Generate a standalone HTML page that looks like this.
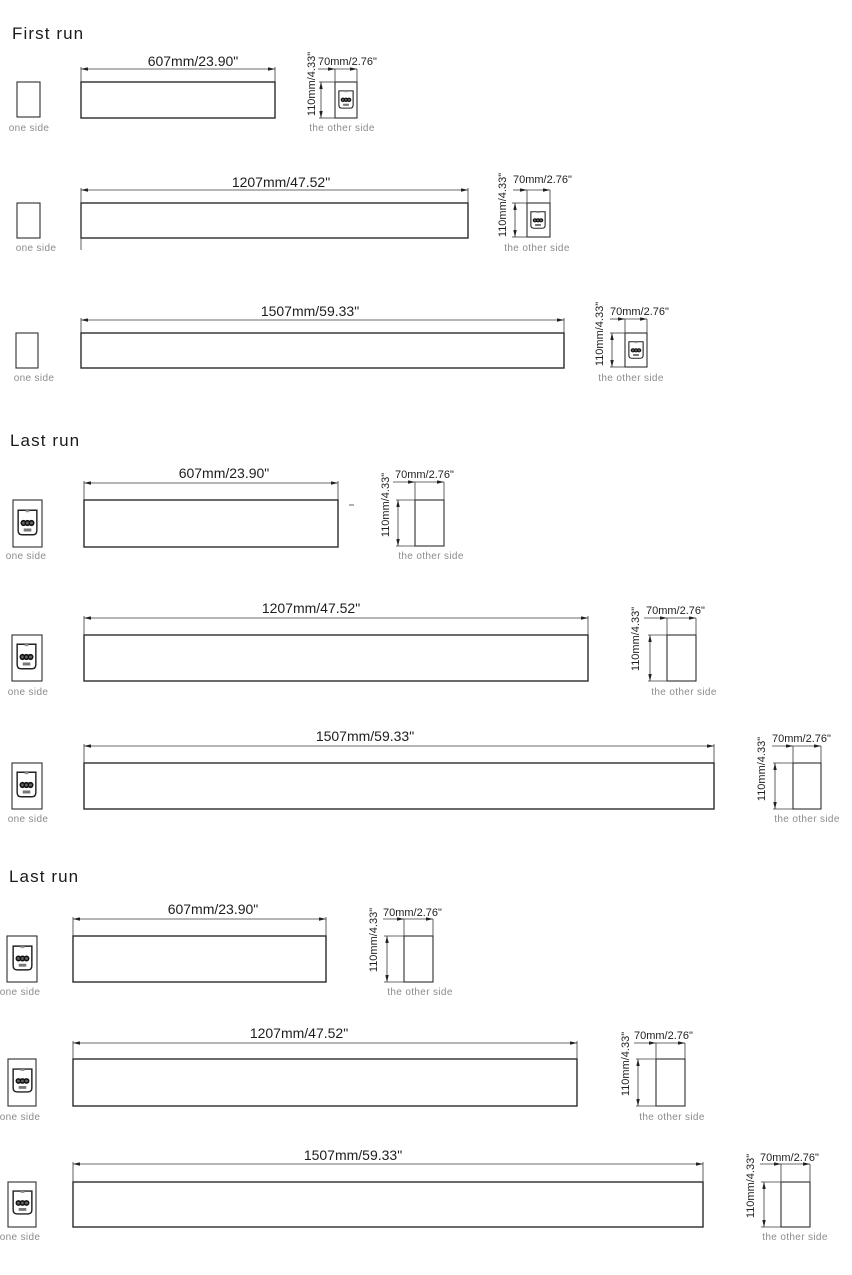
<!DOCTYPE html>
<html>
<head>
<meta charset="utf-8">
<style>
  html,body{margin:0;padding:0;background:#fff;}
  svg{display:block;}
  text{font-family:"Liberation Sans",Arial,sans-serif;}
  .t{font-size:17px;fill:#1a1a1a;letter-spacing:1.1px;}
  .lbl{font-size:14px;fill:#1e1e1e;}
  .sm{font-size:11px;fill:#1e1e1e;}
  .cap{font-size:10px;fill:#8c8c8c;letter-spacing:0.35px;}
  .bar{fill:none;stroke:#2a2a2a;stroke-width:1.4;}
  .box{fill:#fff;stroke:#2e2e2e;stroke-width:1.1;}
  .d{stroke:#3a3a3a;stroke-width:0.8;fill:none;}
</style>
</head>
<body>
<svg width="852" height="1275" viewBox="0 0 852 1275" xmlns="http://www.w3.org/2000/svg">
<defs>
  <marker id="a" viewBox="0 0 8 4" refX="8" refY="2" markerWidth="7" markerHeight="3.5" markerUnits="userSpaceOnUse" orient="auto-start-reverse">
    <path d="M0,0 L8,2 L0,4 z" fill="#222"/>
  </marker>
  <symbol id="conn" viewBox="0 0 22 27" preserveAspectRatio="none">
    <path d="M1.2,1.2 H20.8 V21.5 Q20.8,25.8 16.5,25.8 H5.5 Q1.2,25.8 1.2,21.5 Z" fill="#fff" stroke="#222" stroke-width="1.5"/>
    <rect x="9" y="1.2" width="4" height="2" fill="#999"/>
    <circle cx="6.8" cy="14" r="2.3" fill="#666" stroke="#111" stroke-width="1.6"/>
    <circle cx="11" cy="14" r="2.3" fill="#666" stroke="#111" stroke-width="1.6"/>
    <circle cx="15.2" cy="14" r="2.3" fill="#666" stroke="#111" stroke-width="1.6"/>
    <rect x="7" y="19.5" width="8" height="3" fill="#777"/>
  </symbol>
</defs>

<!-- ===== First run ===== -->
<text class="t" x="12" y="39">First run</text>

<!-- Row 1 : 607 -->
<rect class="box" x="17" y="82" width="23" height="35"/>
<text class="cap" x="29" y="131" text-anchor="middle">one side</text>
<rect class="bar" x="81" y="82" width="194" height="36"/>
<line class="d" x1="81" y1="67" x2="81" y2="82"/>
<line class="d" x1="275" y1="67" x2="275" y2="82"/>
<line class="d" x1="81" y1="69" x2="275" y2="69" marker-start="url(#a)" marker-end="url(#a)"/>
<text class="lbl" x="193" y="66" text-anchor="middle">607mm/23.90"</text>
<rect class="box" x="335" y="82" width="22" height="36"/>
<use href="#conn" x="338" y="90" width="16" height="19"/>
<line class="d" x1="335" y1="69" x2="335" y2="82"/>
<line class="d" x1="357" y1="69" x2="357" y2="82"/>
<line class="d" x1="318" y1="69" x2="335" y2="69" marker-end="url(#a)"/>
<line class="d" x1="335" y1="69" x2="357" y2="69" marker-end="url(#a)"/>
<line class="d" x1="319" y1="82" x2="335" y2="82"/>
<line class="d" x1="319" y1="118" x2="335" y2="118"/>
<line class="d" x1="321" y1="82" x2="321" y2="118" marker-start="url(#a)" marker-end="url(#a)"/>
<text class="sm" x="318" y="65">70mm/2.76"</text>
<text class="sm" transform="translate(315,84) rotate(-90)" text-anchor="middle">110mm/4.33"</text>
<text class="cap" x="342" y="131" text-anchor="middle">the other side</text>

<!-- Row 2 : 1207 -->
<rect class="box" x="17" y="203" width="23" height="35"/>
<text class="cap" x="36" y="251" text-anchor="middle">one side</text>
<rect class="bar" x="81" y="203" width="387" height="35"/>
<line class="d" x1="81" y1="188" x2="81" y2="250"/>
<line class="d" x1="468" y1="188" x2="468" y2="203"/>
<line class="d" x1="81" y1="190" x2="468" y2="190" marker-start="url(#a)" marker-end="url(#a)"/>
<text class="lbl" x="281" y="187" text-anchor="middle">1207mm/47.52"</text>
<rect class="box" x="527" y="203" width="23" height="34"/>
<use href="#conn" x="530" y="211" width="16" height="18"/>
<line class="d" x1="527" y1="190" x2="527" y2="203"/>
<line class="d" x1="550" y1="190" x2="550" y2="203"/>
<line class="d" x1="513" y1="190" x2="527" y2="190" marker-end="url(#a)"/>
<line class="d" x1="527" y1="190" x2="550" y2="190" marker-end="url(#a)"/>
<line class="d" x1="512" y1="203" x2="527" y2="203"/>
<line class="d" x1="512" y1="237" x2="527" y2="237"/>
<line class="d" x1="515" y1="203" x2="515" y2="237" marker-start="url(#a)" marker-end="url(#a)"/>
<text class="sm" x="513" y="183">70mm/2.76"</text>
<text class="sm" transform="translate(506,205) rotate(-90)" text-anchor="middle">110mm/4.33"</text>
<text class="cap" x="537" y="251" text-anchor="middle">the other side</text>

<!-- Row 3 : 1507 -->
<rect class="box" x="16" y="333" width="22" height="35"/>
<text class="cap" x="34" y="381" text-anchor="middle">one side</text>
<rect class="bar" x="81" y="333" width="483" height="35"/>
<line class="d" x1="81" y1="318" x2="81" y2="333"/>
<line class="d" x1="564" y1="318" x2="564" y2="333"/>
<line class="d" x1="81" y1="320" x2="564" y2="320" marker-start="url(#a)" marker-end="url(#a)"/>
<text class="lbl" x="310" y="316" text-anchor="middle">1507mm/59.33"</text>
<rect class="box" x="625" y="333" width="22" height="34"/>
<use href="#conn" x="628" y="341" width="16" height="18"/>
<line class="d" x1="625" y1="319" x2="625" y2="333"/>
<line class="d" x1="647" y1="319" x2="647" y2="333"/>
<line class="d" x1="610" y1="319" x2="625" y2="319" marker-end="url(#a)"/>
<line class="d" x1="625" y1="319" x2="647" y2="319" marker-end="url(#a)"/>
<line class="d" x1="610" y1="333" x2="625" y2="333"/>
<line class="d" x1="610" y1="367" x2="625" y2="367"/>
<line class="d" x1="612" y1="333" x2="612" y2="367" marker-start="url(#a)" marker-end="url(#a)"/>
<text class="sm" x="610" y="315">70mm/2.76"</text>
<text class="sm" transform="translate(603,334) rotate(-90)" text-anchor="middle">110mm/4.33"</text>
<text class="cap" x="631" y="381" text-anchor="middle">the other side</text>

<!-- ===== Last run ===== -->
<text class="t" x="10" y="446">Last run</text>

<!-- Row 4 : 607 -->
<rect class="box" x="13" y="500" width="29" height="47"/>
<use href="#conn" x="17" y="509" width="21" height="27"/>
<text class="cap" x="26" y="559" text-anchor="middle">one side</text>
<rect class="bar" x="84" y="500" width="254" height="47"/>
<line class="d" x1="84" y1="481" x2="84" y2="500"/>
<line class="d" x1="338" y1="481" x2="338" y2="500"/>
<line class="d" x1="84" y1="483" x2="338" y2="483" marker-start="url(#a)" marker-end="url(#a)"/>
<text class="lbl" x="224" y="478" text-anchor="middle">607mm/23.90"</text>
<line class="d" x1="349" y1="505" x2="354" y2="505"/>
<rect class="box" x="415" y="500" width="29" height="46"/>
<line class="d" x1="415" y1="482" x2="415" y2="500"/>
<line class="d" x1="444" y1="482" x2="444" y2="500"/>
<line class="d" x1="393" y1="482" x2="415" y2="482" marker-end="url(#a)"/>
<line class="d" x1="415" y1="482" x2="444" y2="482" marker-end="url(#a)"/>
<line class="d" x1="396" y1="500" x2="415" y2="500"/>
<line class="d" x1="396" y1="546" x2="415" y2="546"/>
<line class="d" x1="398" y1="500" x2="398" y2="546" marker-start="url(#a)" marker-end="url(#a)"/>
<text class="sm" x="395" y="478">70mm/2.76"</text>
<text class="sm" transform="translate(389,505) rotate(-90)" text-anchor="middle">110mm/4.33"</text>
<text class="cap" x="431" y="559" text-anchor="middle">the other side</text>

<!-- Row 5 : 1207 -->
<rect class="box" x="12" y="635" width="30" height="46"/>
<use href="#conn" x="16" y="643" width="21" height="27"/>
<text class="cap" x="28" y="695" text-anchor="middle">one side</text>
<rect class="bar" x="84" y="635" width="504" height="46"/>
<line class="d" x1="84" y1="616" x2="84" y2="635"/>
<line class="d" x1="588" y1="616" x2="588" y2="635"/>
<line class="d" x1="84" y1="618" x2="588" y2="618" marker-start="url(#a)" marker-end="url(#a)"/>
<text class="lbl" x="311" y="613" text-anchor="middle">1207mm/47.52"</text>
<rect class="box" x="667" y="635" width="29" height="46"/>
<line class="d" x1="667" y1="618" x2="667" y2="635"/>
<line class="d" x1="696" y1="618" x2="696" y2="635"/>
<line class="d" x1="644" y1="618" x2="667" y2="618" marker-end="url(#a)"/>
<line class="d" x1="667" y1="618" x2="696" y2="618" marker-end="url(#a)"/>
<line class="d" x1="648" y1="635" x2="667" y2="635"/>
<line class="d" x1="648" y1="681" x2="667" y2="681"/>
<line class="d" x1="650" y1="635" x2="650" y2="681" marker-start="url(#a)" marker-end="url(#a)"/>
<text class="sm" x="646" y="614">70mm/2.76"</text>
<text class="sm" transform="translate(639,639) rotate(-90)" text-anchor="middle">110mm/4.33"</text>
<text class="cap" x="684" y="695" text-anchor="middle">the other side</text>

<!-- Row 6 : 1507 -->
<rect class="box" x="12" y="763" width="30" height="46"/>
<use href="#conn" x="16" y="771" width="21" height="27"/>
<text class="cap" x="28" y="822" text-anchor="middle">one side</text>
<rect class="bar" x="84" y="763" width="630" height="46"/>
<line class="d" x1="84" y1="744" x2="84" y2="763"/>
<line class="d" x1="714" y1="744" x2="714" y2="763"/>
<line class="d" x1="84" y1="746" x2="714" y2="746" marker-start="url(#a)" marker-end="url(#a)"/>
<text class="lbl" x="365" y="741" text-anchor="middle">1507mm/59.33"</text>
<rect class="box" x="793" y="763" width="28" height="46"/>
<line class="d" x1="793" y1="746" x2="793" y2="763"/>
<line class="d" x1="821" y1="746" x2="821" y2="763"/>
<line class="d" x1="772" y1="746" x2="793" y2="746" marker-end="url(#a)"/>
<line class="d" x1="793" y1="746" x2="821" y2="746" marker-end="url(#a)"/>
<line class="d" x1="773" y1="763" x2="793" y2="763"/>
<line class="d" x1="773" y1="809" x2="793" y2="809"/>
<line class="d" x1="775" y1="763" x2="775" y2="809" marker-start="url(#a)" marker-end="url(#a)"/>
<text class="sm" x="772" y="742">70mm/2.76"</text>
<text class="sm" transform="translate(765,769) rotate(-90)" text-anchor="middle">110mm/4.33"</text>
<text class="cap" x="807" y="822" text-anchor="middle">the other side</text>

<!-- ===== Last run (2) ===== -->
<text class="t" x="9" y="882">Last run</text>

<!-- Row 7 : 607 -->
<rect class="box" x="7" y="936" width="30" height="46"/>
<use href="#conn" x="12" y="945" width="21" height="26"/>
<text class="cap" x="20" y="995" text-anchor="middle">one side</text>
<rect class="bar" x="73" y="936" width="253" height="46"/>
<line class="d" x1="73" y1="917" x2="73" y2="936"/>
<line class="d" x1="326" y1="917" x2="326" y2="936"/>
<line class="d" x1="73" y1="919" x2="326" y2="919" marker-start="url(#a)" marker-end="url(#a)"/>
<text class="lbl" x="213" y="914" text-anchor="middle">607mm/23.90"</text>
<rect class="box" x="404" y="936" width="29" height="46"/>
<line class="d" x1="404" y1="919" x2="404" y2="936"/>
<line class="d" x1="433" y1="919" x2="433" y2="936"/>
<line class="d" x1="383" y1="919" x2="404" y2="919" marker-end="url(#a)"/>
<line class="d" x1="404" y1="919" x2="433" y2="919" marker-end="url(#a)"/>
<line class="d" x1="384" y1="936" x2="404" y2="936"/>
<line class="d" x1="384" y1="982" x2="404" y2="982"/>
<line class="d" x1="387" y1="936" x2="387" y2="982" marker-start="url(#a)" marker-end="url(#a)"/>
<text class="sm" x="383" y="916">70mm/2.76"</text>
<text class="sm" transform="translate(377,940) rotate(-90)" text-anchor="middle">110mm/4.33"</text>
<text class="cap" x="420" y="995" text-anchor="middle">the other side</text>

<!-- Row 8 : 1207 -->
<rect class="box" x="8" y="1059" width="28" height="47"/>
<use href="#conn" x="12" y="1068" width="21" height="25"/>
<text class="cap" x="20" y="1120" text-anchor="middle">one side</text>
<rect class="bar" x="73" y="1059" width="504" height="47"/>
<line class="d" x1="73" y1="1041" x2="73" y2="1059"/>
<line class="d" x1="577" y1="1041" x2="577" y2="1059"/>
<line class="d" x1="73" y1="1043" x2="577" y2="1043" marker-start="url(#a)" marker-end="url(#a)"/>
<text class="lbl" x="299" y="1038" text-anchor="middle">1207mm/47.52"</text>
<rect class="box" x="656" y="1059" width="29" height="47"/>
<line class="d" x1="656" y1="1043" x2="656" y2="1059"/>
<line class="d" x1="685" y1="1043" x2="685" y2="1059"/>
<line class="d" x1="634" y1="1043" x2="656" y2="1043" marker-end="url(#a)"/>
<line class="d" x1="656" y1="1043" x2="685" y2="1043" marker-end="url(#a)"/>
<line class="d" x1="636" y1="1059" x2="656" y2="1059"/>
<line class="d" x1="636" y1="1106" x2="656" y2="1106"/>
<line class="d" x1="638" y1="1059" x2="638" y2="1106" marker-start="url(#a)" marker-end="url(#a)"/>
<text class="sm" x="634" y="1039">70mm/2.76"</text>
<text class="sm" transform="translate(629,1064) rotate(-90)" text-anchor="middle">110mm/4.33"</text>
<text class="cap" x="672" y="1120" text-anchor="middle">the other side</text>

<!-- Row 9 : 1507 -->
<rect class="box" x="8" y="1182" width="28" height="45"/>
<use href="#conn" x="12" y="1190" width="21" height="25"/>
<text class="cap" x="20" y="1240" text-anchor="middle">one side</text>
<rect class="bar" x="73" y="1182" width="630" height="45"/>
<line class="d" x1="73" y1="1162" x2="73" y2="1182"/>
<line class="d" x1="703" y1="1162" x2="703" y2="1182"/>
<line class="d" x1="73" y1="1164" x2="703" y2="1164" marker-start="url(#a)" marker-end="url(#a)"/>
<text class="lbl" x="353" y="1160" text-anchor="middle">1507mm/59.33"</text>
<rect class="box" x="781" y="1182" width="29" height="45"/>
<line class="d" x1="781" y1="1164" x2="781" y2="1182"/>
<line class="d" x1="810" y1="1164" x2="810" y2="1182"/>
<line class="d" x1="760" y1="1164" x2="781" y2="1164" marker-end="url(#a)"/>
<line class="d" x1="781" y1="1164" x2="810" y2="1164" marker-end="url(#a)"/>
<line class="d" x1="761" y1="1182" x2="781" y2="1182"/>
<line class="d" x1="761" y1="1227" x2="781" y2="1227"/>
<line class="d" x1="764" y1="1182" x2="764" y2="1227" marker-start="url(#a)" marker-end="url(#a)"/>
<text class="sm" x="760" y="1161">70mm/2.76"</text>
<text class="sm" transform="translate(754,1186) rotate(-90)" text-anchor="middle">110mm/4.33"</text>
<text class="cap" x="795" y="1240" text-anchor="middle">the other side</text>
</svg>
</body>
</html>
